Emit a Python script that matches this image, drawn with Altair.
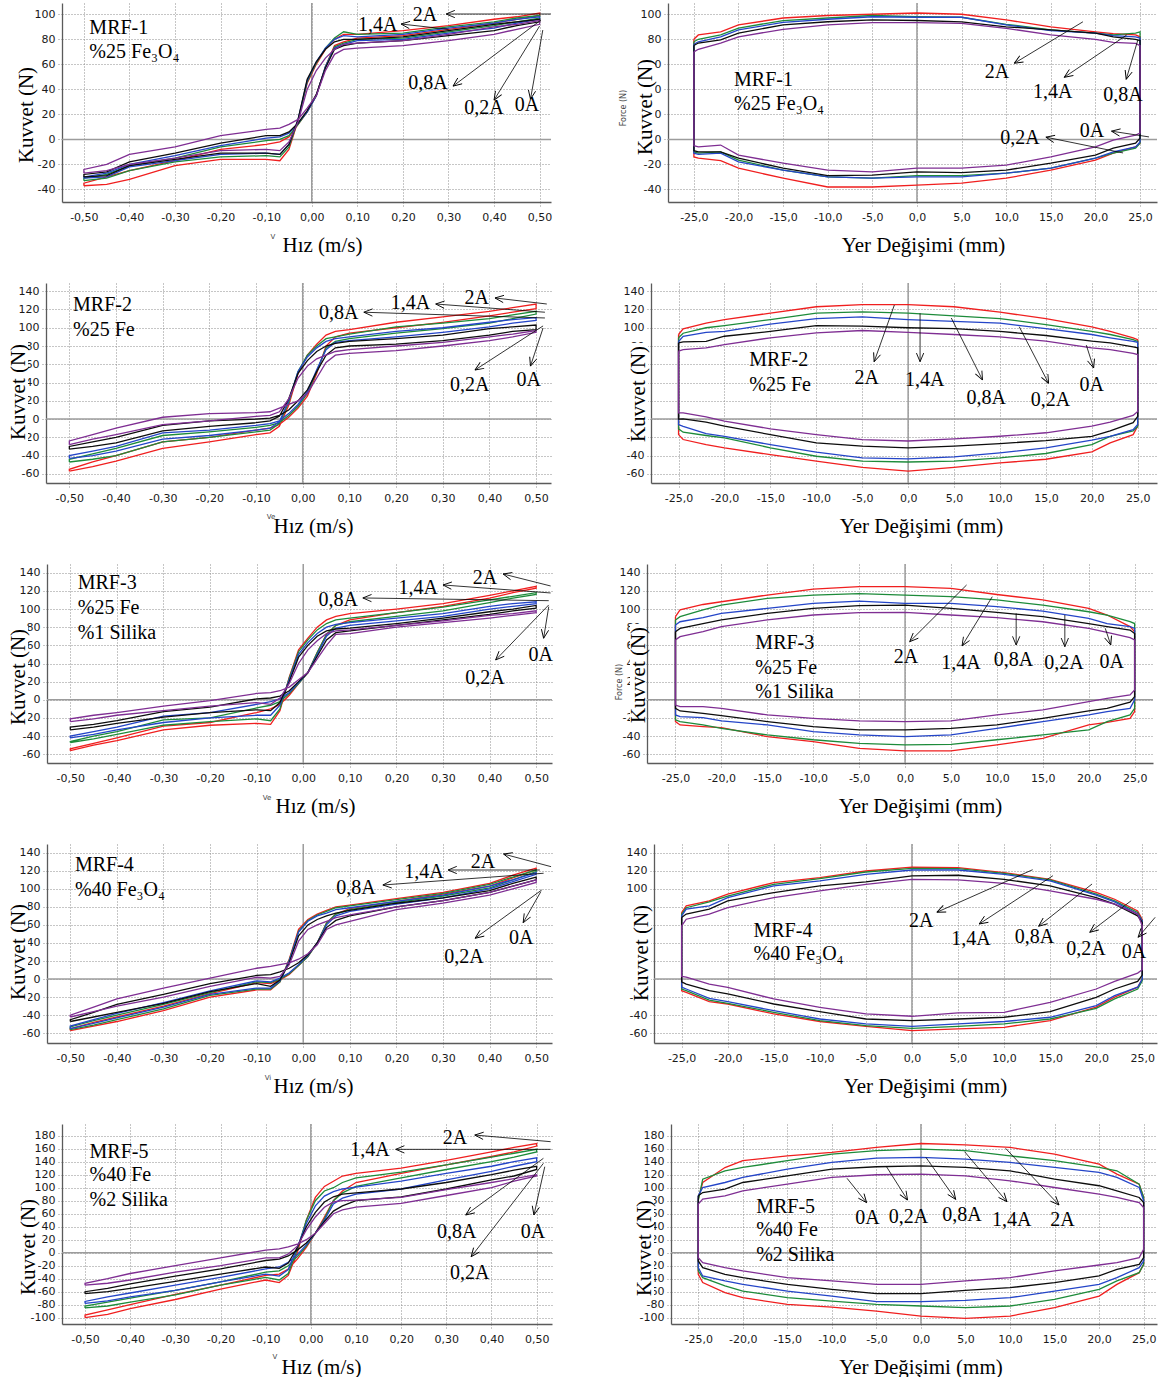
import math
import altair as alt
import pandas as pd

SERIF = "Liberation Serif, DejaVu Serif, serif"
SANS = "DejaVu Sans, Verdana, sans-serif"

# Akım değerleri ve çizgi renkleri
AKIMLAR = ["2A", "1,4A", "0,8A", "0,2A", "0A"]
RENKLER = ["#f01f1f", "#1d8b3a", "#2445c8", "#0d0d0d", "#7f2e93"]

# Ölçüm noktaları: hız (m/s) ve yer değişimi (mm)
HIZ = [-0.50, -0.45, -0.40, -0.30, -0.20, -0.10, -0.07, -0.05, -0.03, -0.01,
       0.01, 0.03, 0.05, 0.07, 0.10, 0.20, 0.30, 0.40, 0.45, 0.50]
YER = [-25, -24.5, -22, -20, -15, -10, -5, 0, 5, 10, 15, 20, 22, 24.5, 25]

HIZ_TIKLER = [-0.5, -0.4, -0.3, -0.2, -0.1, 0.0, 0.1, 0.2, 0.3, 0.4, 0.5]
YER_TIKLER = [-25, -20, -15, -10, -5, 0, 5, 10, 15, 20, 25]
KUVVET_TIKLER_A = [-40, -20, 0, 20, 40, 60, 80, 100]
KUVVET_TIKLER_B = [-60, -40, -20, 0, 20, 40, 60, 80, 100, 120, 140]
KUVVET_TIKLER_C = [-100, -80, -60, -40, -20, 0, 20, 40, 60, 80, 100, 120, 140, 160, 180]

# ---------------- MRF-1 ----------------
mrf1_hiz_a = {
    "2A":   [-37, -36, -32, -21, -16, -16, -17, -8, 15, 45, 60, 72, 80, 84, 84, 87, 91, 96, 98, 101],
    "1,4A": [-33, -31, -25, -18, -14, -13, -14, -6, 15, 46, 61, 73, 81, 86, 84, 85, 90, 94, 97, 99],
    "0,8A": [-31, -30, -22, -17, -12, -11, -12, -4, 16, 47, 62, 73, 80, 83, 82, 84, 89, 93, 96, 98],
    "0,2A": [-30, -29, -21, -16, -11, -11, -12, -4, 16, 48, 62, 72, 78, 80, 80, 82, 87, 92, 94, 96],
    "0A":   [-27, -25, -20, -15, -9, -8, -9, -2, 14, 40, 55, 65, 72, 76, 77, 79, 84, 90, 92, 95],
}
mrf1_hiz_b = {
    "2A":   [-35, -30, -25, -17, -8, -4, -2, 2, 12, 22, 35, 58, 75, 78, 81, 83, 88, 93, 96, 99],
    "1,4A": [-31, -28, -21, -15, -6, -1, 0, 3, 12, 22, 35, 58, 74, 77, 80, 81, 86, 91, 94, 97],
    "0,8A": [-30, -27, -20, -13, -5, 1, 2, 5, 13, 22, 35, 58, 73, 76, 79, 80, 85, 89, 93, 96],
    "0,2A": [-28, -26, -18, -11, -3, 3, 3, 6, 13, 23, 36, 57, 72, 75, 77, 79, 83, 87, 91, 94],
    "0A":   [-24, -20, -12, -6, 3, 8, 9, 12, 16, 25, 35, 55, 68, 72, 73, 75, 79, 84, 88, 92],
}
mrf1_yer_ust = {
    "2A":   [80, 83.5, 86, 91.5, 97, 99, 100, 101, 100, 95.5, 90, 86, 84.5, 83.5, 82],
    "1,4A": [78, 80, 83.5, 89, 95, 97, 99, 98, 97.6, 92, 87.5, 85, 83.5, 85, 86],
    "0,8A": [76, 78, 82, 87.5, 93.5, 96, 98, 97.6, 97.6, 91.5, 87, 85, 83, 82, 81],
    "0,2A": [75, 77, 79.5, 85, 91.5, 94, 95.5, 95, 94, 90, 87.5, 85, 82, 80, 79],
    "0A":   [70, 72, 77, 82, 88, 91.5, 93.3, 93.3, 92.8, 88.8, 83.5, 80, 77.5, 76.8, 75],
}
mrf1_yer_alt = {
    "2A":   [-14, -15, -17, -23, -31, -38, -38, -36.5, -35, -31, -24.5, -16.5, -11, -6, -3],
    "1,4A": [-10, -11, -10, -16.5, -24.5, -30, -31, -29, -29, -27, -23, -15, -11, -7, -3],
    "0,8A": [-11, -12, -11, -18, -24.5, -30, -31, -30, -30, -27, -23, -15, -10, -6, -2],
    "0,2A": [-9, -10, -10, -15, -23, -29, -28.5, -26, -26.6, -24.5, -19, -12.5, -7, -3, 1],
    "0A":   [-5, -6, -4.5, -12.5, -19, -24.5, -26, -23, -23, -20.5, -14, -6, -0.5, 3.5, 5],
}

# ---------------- MRF-2 ----------------
mrf2_hiz_a = {
    "2A":   [-57, -52, -46, -32, -25, -17, -15, -8, 15, 50, 70, 82, 92, 96, 98, 106, 112, 118, 122, 126],
    "1,4A": [-47, -44, -40, -25, -20, -14, -12, -5, 18, 52, 70, 80, 88, 90, 93, 101, 105, 110, 114, 118],
    "0,8A": [-43, -40, -35, -22, -18, -12, -10, -3, 20, 52, 68, 78, 85, 88, 90, 96, 100, 106, 109, 111],
    "0,2A": [-33, -30, -26, -13, -8, -4, -2, 3, 22, 50, 64, 74, 80, 83, 85, 88, 92, 99, 101, 103],
    "0A":   [-28, -22, -17, -6, -2, 3, 4, 8, 22, 45, 58, 66, 70, 74, 76, 80, 84, 90, 93, 97],
}
mrf2_hiz_b = {
    "2A":   [-55, -47, -40, -25, -20, -12, -10, -6, 2, 12, 25, 50, 80, 90, 94, 100, 106, 113, 117, 121],
    "1,4A": [-44, -38, -32, -18, -14, -9, -7, -4, 4, 14, 28, 52, 78, 85, 88, 94, 99, 105, 110, 115],
    "0,8A": [-40, -35, -30, -15, -12, -7, -5, -2, 6, 16, 30, 54, 76, 84, 86, 90, 95, 101, 105, 108],
    "0,2A": [-30, -25, -20, -7, -2, 0, 1, 4, 10, 20, 32, 52, 70, 78, 80, 82, 86, 92, 96, 98],
    "0A":   [-24, -17, -10, 2, 6, 7, 8, 12, 16, 20, 28, 45, 62, 70, 72, 75, 80, 86, 90, 95],
}
mrf2_yer_ust = {
    "2A":   [92.6, 98.8, 105, 109, 116, 123, 125.4, 125.4, 123, 117, 110, 101, 96, 89, 87],
    "1,4A": [89, 94, 100, 102.4, 109, 116, 117.4, 116, 113, 110, 103.5, 96, 92.6, 87, 85],
    "0,8A": [85, 90.7, 95, 96, 104, 110, 112, 109, 107, 105, 99, 92.6, 89, 85, 84],
    "0,2A": [83.4, 84.5, 85, 90.7, 96, 102.4, 101.7, 100, 99, 96, 91.5, 85.3, 83.4, 79, 78],
    "0A":   [74.3, 76, 78, 81.6, 89, 94.4, 97, 95, 92.6, 90, 85.3, 78, 76, 72, 70.7],
}
mrf2_yer_alt = {
    "2A":   [-17, -22.4, -28, -31.5, -39, -46, -53, -57, -53, -48, -44, -36, -26, -17, -7.8],
    "1,4A": [-10.7, -14.4, -18, -20.6, -31.5, -40.7, -46, -47, -46, -42.5, -37.7, -28, -19, -13, -8],
    "0,8A": [-6, -8, -16, -19, -28, -36.3, -42.5, -43.6, -41.4, -37, -31.5, -23, -19, -11.5, -6],
    "0,2A": [0, 0.2, -3.4, -7.8, -17, -26, -29.7, -31.5, -29.7, -26.8, -23.5, -19, -13, -4, 3],
    "0A":   [6.8, 6.8, 2.4, -2.3, -10.7, -17, -22.4, -24, -21.7, -18.8, -15, -7.8, -3.4, 4, 8.4],
}

# ---------------- MRF-3 ----------------
mrf3_hiz_a = {
    "2A":   [-56, -50, -45, -33, -28, -26, -27, -12, 25, 55, 68, 80, 88, 92, 95, 100, 106, 115, 120, 125],
    "1,4A": [-47, -43, -38, -28, -24, -21, -23, -10, 24, 53, 66, 77, 84, 88, 90, 96, 102, 110, 114, 118],
    "0,8A": [-42, -38, -33, -25, -20, -17, -17, -6, 22, 50, 63, 73, 80, 83, 85, 90, 95, 103, 106, 108],
    "0,2A": [-33, -30, -26, -19, -14, -11, -12, -3, 20, 47, 60, 70, 76, 78, 79, 84, 90, 97, 100, 104],
    "0A":   [-24, -21, -17, -12, -7, -3, -5, 2, 18, 40, 55, 65, 73, 76, 77, 82, 87, 93, 95, 98],
}
mrf3_hiz_b = {
    "2A":   [-54, -48, -42, -29, -25, -14, -10, -5, 5, 18, 30, 52, 72, 82, 88, 96, 103, 112, 118, 123],
    "1,4A": [-46, -40, -35, -22, -20, -9, -6, -2, 7, 18, 30, 52, 72, 82, 86, 92, 98, 107, 112, 116],
    "0,8A": [-40, -35, -30, -18, -14, -5, -2, 1, 8, 19, 30, 50, 70, 79, 82, 87, 92, 100, 103, 106],
    "0,2A": [-30, -27, -23, -13, -8, 1, 2, 4, 10, 20, 30, 48, 66, 74, 76, 82, 88, 94, 98, 101],
    "0A":   [-21, -17, -14, -7, -1, 7, 8, 10, 14, 22, 30, 45, 60, 72, 73, 80, 85, 90, 93, 96],
}
mrf3_yer_ust = {
    "2A":   [91.6, 99, 105, 108, 115.4, 122, 124.6, 124.6, 122.8, 116, 110, 100.7, 93.4, 80.6, 75],
    "1,4A": [88, 91.6, 99, 104.4, 111.7, 115.4, 117, 115.4, 113.6, 110, 104.4, 97, 93.4, 86, 84],
    "0,8A": [82.4, 86, 90.5, 95.2, 100.7, 106.2, 108.8, 106.2, 106.2, 102.6, 97.8, 89.7, 84, 80.6, 78.7],
    "0,2A": [75, 78.7, 84, 88, 95.2, 100.7, 103.7, 104.4, 100.7, 96.3, 91.6, 84, 80.6, 76.9, 73],
    "0A":   [66, 69.5, 75, 80.6, 88, 93.4, 96, 96.3, 93.4, 90.5, 86, 78.7, 74.3, 68.4, 66],
}
mrf3_yer_alt = {
    "2A":   [-24, -27.7, -29.5, -30.6, -40.5, -46, -53.4, -56.3, -56.3, -49.7, -42.4, -27.7, -24.8, -20.4, -13],
    "1,4A": [-22, -24, -27.7, -31.4, -38.7, -44, -48, -49.7, -49, -44, -38.7, -33, -24, -16.7, -9.4],
    "0,8A": [-16.7, -18.5, -19.6, -23.3, -27.7, -35, -38.7, -40.5, -38.7, -31.4, -24, -16.7, -13, -9.4, 0],
    "0,2A": [-9.4, -12.3, -14.9, -17.4, -24, -29.5, -33.2, -33.2, -31.4, -27.7, -20.4, -12.3, -9.4, -2.6, 3.5],
    "0A":   [-5.7, -7.5, -7.5, -9.4, -16.7, -20.4, -23.3, -24, -23.3, -16.7, -11, -2, 1.6, 5.3, 10.8],
}

# ---------------- MRF-4 ----------------
mrf4_hiz_a = {
    "2A":   [-57, -52, -47, -35, -20, -12, -12, -3, 22, 55, 66, 72, 76, 80, 82, 89, 96, 106, 115, 123],
    "1,4A": [-56, -51, -45, -33, -18, -11, -11, -3, 21, 53, 65, 71, 75, 79, 81, 88, 95, 105, 113, 121],
    "0,8A": [-55, -49, -43, -31, -17, -10, -10, -2, 20, 52, 64, 70, 73, 77, 79, 86, 93, 103, 110, 118],
    "0,2A": [-47, -42, -37, -27, -14, -5, -8, -1, 18, 48, 60, 66, 70, 73, 76, 84, 90, 98, 106, 113],
    "0A":   [-42, -36, -30, -20, -8, 2, 1, 3, 16, 42, 55, 60, 64, 68, 71, 80, 87, 96, 103, 110],
}
mrf4_hiz_b = {
    "2A":   [-55, -48, -42, -30, -16, -4, -5, -1, 5, 15, 25, 40, 62, 72, 78, 86, 94, 103, 112, 121],
    "1,4A": [-53, -46, -40, -28, -15, -3, -4, 0, 6, 15, 25, 40, 62, 72, 77, 85, 92, 101, 110, 119],
    "0,8A": [-52, -45, -38, -26, -13, -2, -3, 1, 7, 16, 26, 40, 60, 70, 75, 83, 90, 100, 108, 116],
    "0,2A": [-45, -37, -28, -17, -5, 4, 5, 8, 12, 18, 27, 40, 57, 65, 70, 80, 87, 96, 103, 110],
    "0A":   [-40, -31, -22, -10, 1, 12, 14, 16, 18, 22, 28, 38, 55, 60, 64, 77, 84, 93, 100, 107],
}
mrf4_yer_ust = {
    "2A":   [73.7, 81, 86.6, 94, 106.9, 112.4, 119.7, 124, 123.4, 118, 110.5, 96, 88.4, 75.5, 66],
    "1,4A": [72, 79, 85.5, 92, 105, 111.3, 118.6, 122.7, 122.3, 117, 109.8, 94, 86.6, 73.7, 64.5],
    "0,8A": [70, 77.4, 81, 90.3, 103.2, 108.7, 116, 120.8, 120.8, 116, 108.7, 93, 85.5, 72, 64.5],
    "0,2A": [68.2, 72, 77.4, 86.6, 95.8, 103.2, 107.6, 114.2, 115, 110.5, 103.2, 90.3, 83, 70, 62.7],
    "0A":   [59, 66.3, 72, 79.2, 90.3, 97.6, 105, 110.5, 109.8, 106, 97.6, 88.4, 83, 72, 59],
}
mrf4_yer_alt = {
    "2A":   [-12.9, -14.7, -25, -27.6, -38.6, -47, -52.3, -57, -55.2, -53.4, -46, -31, -20, -9, 0],
    "1,4A": [-11, -12.9, -23.2, -26.9, -36.8, -46, -51.5, -54.5, -52.3, -49.7, -44.2, -32.4, -22, -11, -2],
    "0,8A": [-9, -11, -21.3, -25, -35, -44.2, -49.7, -52.3, -49.7, -47, -42.3, -29.4, -18.4, -9, 0],
    "0,2A": [-3, -5.5, -12.9, -16.5, -27.6, -36, -44.2, -46, -44.2, -42.3, -36, -20.2, -11, -2.6, 4.4],
    "0A":   [3, 2.2, -5.5, -9.2, -22, -31.3, -38.6, -41.2, -37.5, -36.8, -25.7, -11, -2.6, 6.6, 10.3],
}

# ---------------- MRF-5 ----------------
mrf5_hiz_a = {
    "2A":   [-100, -95, -86, -72, -56, -42, -46, -35, 0, 50, 85, 102, 110, 118, 122, 130, 142, 155, 162, 168],
    "1,4A": [-85, -82, -76, -65, -50, -38, -42, -32, 5, 50, 80, 95, 100, 108, 115, 124, 135, 147, 153, 159],
    "0,8A": [-78, -74, -68, -58, -45, -33, -36, -26, 8, 45, 72, 87, 94, 98, 101, 110, 122, 133, 140, 146],
    "0,2A": [-63, -60, -55, -44, -33, -22, -24, -16, 8, 40, 62, 78, 86, 90, 92, 98, 108, 120, 127, 133],
    "0A":   [-50, -47, -42, -30, -20, -8, -8, -2, 10, 35, 55, 70, 78, 80, 81, 85, 97, 108, 114, 120],
}
mrf5_hiz_b = {
    "2A":   [-96, -88, -80, -64, -50, -35, -33, -25, -10, 8, 30, 55, 80, 95, 108, 122, 135, 148, 155, 164],
    "1,4A": [-82, -76, -70, -58, -45, -30, -28, -20, -6, 10, 30, 52, 80, 92, 102, 115, 128, 140, 147, 155],
    "0,8A": [-75, -68, -62, -50, -38, -25, -22, -15, -3, 12, 30, 50, 75, 84, 90, 98, 112, 125, 133, 140],
    "0,2A": [-60, -55, -48, -36, -25, -12, -10, -5, 4, 15, 30, 48, 64, 72, 80, 86, 98, 112, 118, 128],
    "0A":   [-47, -40, -32, -20, -8, 4, 6, 9, 13, 20, 30, 45, 60, 66, 70, 76, 88, 100, 110, 118],
}
mrf5_yer_ust = {
    "2A":   [82.4, 108, 131, 141.5, 149, 154.3, 162, 168, 166, 162, 151.7, 136.3, 121, 105.5, 85],
    "1,4A": [80, 113.2, 126, 131.2, 141.5, 151.7, 157, 159.4, 157, 149, 141.5, 131.2, 126, 105.5, 85],
    "0,8A": [87.5, 100.3, 108, 115.8, 128.6, 138.9, 145.6, 146.6, 144, 138.9, 131.2, 123.5, 115.8, 100.3, 80],
    "0,2A": [87.5, 92.6, 97.8, 108, 118.3, 128.6, 132.2, 133.7, 131.2, 126, 113.2, 103, 95.2, 85, 77.2],
    "0A":   [74.7, 82.4, 87.5, 95.2, 105.5, 115.8, 119.9, 121, 118.3, 110.6, 100.3, 90, 85, 77.2, 69.5],
}
mrf5_yer_alt = {
    "2A":   [-33.3, -46, -61.5, -69.2, -79.5, -83.6, -89.8, -97.5, -101, -97.5, -84.6, -66.7, -48.7, -30.7, -18],
    "1,4A": [-28, -38.4, -51.2, -59, -69.2, -74.4, -79.5, -82, -84.6, -82, -71.8, -56.4, -43.5, -30.7, -18],
    "0,8A": [-23, -35.8, -43.5, -48.7, -59, -66.7, -75.4, -75.4, -73.3, -69.2, -59, -48.7, -38.4, -23, -12.7],
    "0,2A": [-12.7, -23, -33.3, -38.4, -48.7, -56.4, -63, -63, -58, -53.8, -46, -35.8, -25.6, -18, -7.6],
    "0A":   [-7.6, -15.3, -23, -28, -38.4, -43.5, -48.7, -48.7, -43.5, -38.4, -28, -18.9, -15.3, -7.6, 5.3],
}

# Panel yazıları (veri koordinatlarında sol kenar)
mrf1_hiz_yazi = [("MRF-1", -0.488, 89), ("%25 Fe\u2083O\u2084", -0.488, 69.8)]
mrf1_yer_yazi = [("MRF-1", -20.5, 47.4), ("%25 Fe\u2083O\u2084", -20.5, 28.2)]
mrf2_hiz_yazi = [("MRF-2", -0.492, 124.9), ("%25 Fe", -0.492, 97.5)]
mrf2_yer_yazi = [("MRF-2", -17.3, 64.7), ("%25 Fe", -17.3, 37.3)]
mrf3_hiz_yazi = [("MRF-3", -0.484, 128.7), ("%25 Fe", -0.484, 101), ("%1 Silika", -0.484, 73.6)]
mrf3_yer_yazi = [("MRF-3", -16.3, 62.6), ("%25 Fe", -16.3, 35), ("%1 Silika", -16.3, 8.6)]
mrf4_hiz_yazi = [("MRF-4", -0.49, 126.3), ("%40 Fe\u2083O\u2084", -0.49, 98.7)]
mrf4_yer_yazi = [("MRF-4", -17.2, 53.3), ("%40 Fe\u2083O\u2084", -17.2, 27.8)]
mrf5_hiz_yazi = [("MRF-5", -0.49, 155.4), ("%40 Fe", -0.49, 119.5), ("%2 Silika", -0.49, 81)]
mrf5_yer_yazi = [("MRF-5", -18.5, 70.8), ("%40 Fe", -18.5, 34.9), ("%2 Silika", -18.5, -3.5)]

# Akım etiketleri ve okları: etiket, etiket x, etiket y, uç x, uç y, kuyruk x, kuyruk y
mrf1_hiz_ok = [
    ("2A", 0.2485, 99.4, 0.295, 100.2, 0.525, 100.2),
    ("1,4A", 0.145, 91.4, 0.196, 92.2, 0.30, 88),
    ("0,8A", 0.255, 45, 0.31, 42.6, 0.503, 95.4),
    ("0,2A", 0.378, 25, 0.40, 31.4, 0.50, 90.6),
    ("0A", 0.472, 27.4, 0.48, 32.2, 0.507, 87.4),
]
mrf1_yer_ok = [
    ("2A", 8.96, 53.8, 10.9, 60.8, 18.6, 94),
    ("1,4A", 15.2, 37.8, 16.5, 49.6, 23.5, 83.4),
    ("0,8A", 23.1, 35.4, 23.45, 48, 24.75, 79.4),
    ("0,2A", 11.55, 1, 14.45, 1.8, 23.1, -10.8),
    ("0A", 19.6, 6.6, 21.8, 6.6, 26.0, 2),
]
mrf2_hiz_ok = [
    ("2A", 0.373, 132.6, 0.412, 132.6, 0.523, 126),
    ("1,4A", 0.231, 127, 0.285, 126, 0.519, 117),
    ("0,8A", 0.077, 116, 0.131, 117, 0.519, 110.7),
    ("0,2A", 0.358, 37.3, 0.369, 53.7, 0.515, 102),
    ("0A", 0.484, 42.8, 0.488, 58, 0.515, 99.7),
]
mrf2_yer_ok = [
    ("2A", -4.5, 45, -3.7, 62.8, -1.5, 124.9),
    ("1,4A", 1.8, 42.8, 1.3, 62.8, 1.3, 115.8),
    ("0,8A", 8.5, 23, 8.1, 42.8, 4.7, 110.7),
    ("0,2A", 15.5, 20.9, 15.3, 39.1, 12.1, 101.1),
    ("0A", 20, 37.3, 20.2, 55.9, 19.4, 81),
]
mrf3_hiz_ok = [
    ("2A", 0.39, 134.2, 0.429, 138.6, 0.531, 125.4),
    ("1,4A", 0.247, 123.2, 0.30, 126.5, 0.531, 117.7),
    ("0,8A", 0.075, 110, 0.128, 112.2, 0.527, 109.2),
    ("0,2A", 0.39, 24, 0.413, 43.9, 0.527, 104.5),
    ("0A", 0.51, 49.4, 0.516, 67.8, 0.527, 102.6),
]
mrf3_yer_ok = [
    ("2A", 0.1, 47.2, 0.5, 64, 6.7, 126.5),
    ("1,4A", 6.1, 40.6, 6.2, 59.3, 9.5, 113.6),
    ("0,8A", 11.8, 43.9, 12.1, 60.4, 12.1, 95.3),
    ("0,2A", 17.3, 40.6, 17.4, 58.5, 17.4, 93.4),
    ("0A", 22.5, 41.7, 22.4, 60.4, 21.8, 78.8),
]
mrf4_hiz_ok = [
    ("2A", 0.386, 129.7, 0.43, 138.5, 0.532, 124.5),
    ("1,4A", 0.259, 118.6, 0.311, 120.8, 0.508, 120.8),
    ("0,8A", 0.113, 100.9, 0.171, 104.2, 0.516, 117.2),
    ("0,2A", 0.345, 24.5, 0.369, 45.2, 0.512, 98.7),
    ("0A", 0.468, 45.5, 0.472, 62.4, 0.51, 96.8),
]
mrf4_yer_ok = [
    ("2A", 1.0, 64.3, 2.7, 74, 13.1, 121.1),
    ("1,4A", 6.4, 44.4, 7.3, 61, 15.3, 114.5),
    ("0,8A", 13.3, 46.6, 13.75, 58.5, 19.55, 105.3),
    ("0,2A", 18.9, 33.3, 19.3, 51.8, 23.8, 86.8),
    ("0A", 24.1, 30, 24.55, 46.3, 26.4, 68.4),
]
mrf5_hiz_ok = [
    ("2A", 0.319, 176.5, 0.363, 181, 0.531, 170.8),
    ("1,4A", 0.131, 158, 0.188, 159, 0.531, 159),
    ("0,8A", 0.323, 32.3, 0.343, 58, 0.515, 145.2),
    ("0,2A", 0.352, -31.2, 0.355, -6.2, 0.515, 137.5),
    ("0A", 0.492, 32.3, 0.494, 58, 0.518, 132.3),
]
mrf5_yer_ok = [
    ("0A", -6.0, 53.4, -6.1, 77, -8.3, 114.5),
    ("0,2A", -1.4, 55.4, -1.5, 81, -3.9, 133),
    ("0,8A", 4.6, 58, 3.9, 82, 0.55, 146.8),
    ("1,4A", 10.2, 50.3, 9.65, 78.5, 4.9, 155.4),
    ("2A", 15.9, 50.3, 15.5, 73.4, 9.5, 160.6),
]

EKSI = "\u2212"
HIZ_ETIKET = f"replace(replace(format(datum.value, '.2f'), '.', ','), '{EKSI}', '-')"
YER_ETIKET = f"replace(replace(format(datum.value, '.1f'), '.', ','), '{EKSI}', '-')"
KUVVET_ETIKET = f"replace(format(datum.value, 'd'), '{EKSI}', '-')"
OK_UCU = "M0,0L1,-0.42M0,0L1,0.42"
BOS = pd.DataFrame({"t": [""]})


def dongu_tablosu(grid, gidis, donus):
    """Her akım için kapalı histerezis döngüsü: gidiş kolu, ardından ters sırada dönüş kolu."""
    satirlar = []
    for akim in AKIMLAR:
        noktalar = list(zip(grid, gidis[akim])) + list(zip(grid[::-1], donus[akim][::-1]))
        noktalar.append(noktalar[0])
        for sira, (x, y) in enumerate(noktalar):
            satirlar.append({"akim": akim, "x": x, "y": y, "sira": sira})
    return pd.DataFrame(satirlar)


def capa(ax_, ay_):
    """Yerleşim sınırlarını belirleyen görünmez nokta."""
    return alt.Chart(BOS).mark_rule(color="white", strokeWidth=0.1).encode(
        x=alt.value(ax_), x2=alt.value(ax_), y=alt.value(ay_), y2=alt.value(ay_))


def panel(tablo, tip, w, h, xdom, ydom, ytikler, yazilar, oklar,
          kuvvet_xy, xbaslik_x, capalar, artik=None, force_xy=None):
    xs = alt.Scale(domain=xdom, nice=False, zero=False)
    ys = alt.Scale(domain=ydom, nice=False, zero=False)
    if tip == "hiz":
        xax = alt.Axis(values=HIZ_TIKLER, labelExpr=HIZ_ETIKET, title="Hız (m/s)",
                       titleX=xbaslik_x, titleY=43, titleAlign="center", titleBaseline="middle",
                       labelPadding=3)
    else:
        xax = alt.Axis(values=YER_TIKLER, labelExpr=YER_ETIKET, title="Yer Değişimi (mm)",
                       titleX=xbaslik_x, titleY=43, titleAlign="center", titleBaseline="middle",
                       labelPadding=3)
    yax = alt.Axis(values=ytikler, labelExpr=KUVVET_ETIKET, title=None, labelPadding=1)

    def X(f):
        return alt.X(f"{f}:Q", scale=xs, axis=xax)

    def Y(f):
        return alt.Y(f"{f}:Q", scale=ys, axis=yax)

    sifir = pd.DataFrame({"s": [0]})
    dikey = alt.Chart(sifir).mark_rule(color="#9c9c9c", strokeWidth=1.5).encode(x=X("s"))
    yatay = alt.Chart(sifir).mark_rule(color="#9c9c9c", strokeWidth=1.5).encode(y=Y("s"))

    cizgi = alt.Chart(tablo).mark_line(strokeWidth=1.3).encode(
        x=X("x"), y=Y("y"),
        color=alt.Color("akim:N", scale=alt.Scale(domain=AKIMLAR, range=RENKLER), legend=None),
        order="sira:Q",
    )

    sx = w / (xdom[1] - xdom[0])
    sy = h / (ydom[1] - ydom[0])
    ok_df = pd.DataFrame(oklar, columns=["t", "lx", "ly", "hx", "hy", "tx", "ty"])
    ok_df["aci"] = [
        (math.degrees(math.atan2(-(r.hy - r.ty) * sy, (r.hx - r.tx) * sx)) - 180) % 360
        for r in ok_df.itertuples()
    ]
    ok_cizgi = alt.Chart(ok_df).mark_rule(color="black", strokeWidth=0.8).encode(
        x=X("tx"), y=Y("ty"), x2=alt.X2("hx:Q"), y2=alt.Y2("hy:Q"))
    ok_uc = alt.Chart(ok_df).mark_point(shape=OK_UCU, filled=False, size=300, strokeWidth=0.9,
                                        color="black", opacity=1).encode(
        x=X("hx"), y=Y("hy"), angle=alt.Angle("aci:Q", scale=None))
    etiket = alt.Chart(ok_df).mark_text(font=SERIF, fontSize=20, align="center",
                                        baseline="middle", color="black").encode(
        x=X("lx"), y=Y("ly"), text="t:N")

    yazi_df = pd.DataFrame(yazilar, columns=["t", "x", "y"])
    yazi = alt.Chart(yazi_df).mark_text(font=SERIF, fontSize=20, align="left",
                                        baseline="middle", color="black").encode(
        x=X("x"), y=Y("y"), text="t:N")

    kx, ky = kuvvet_xy
    baslik_df = pd.DataFrame({"t": ["Kuvvet (N)"]})
    kutu = alt.Chart(baslik_df).mark_rect(color="white").encode(
        x=alt.value(kx - 9), x2=alt.value(min(kx + 9, -1)),
        y=alt.value(ky - 51), y2=alt.value(ky + 51))
    baslik = alt.Chart(baslik_df).mark_text(angle=270, font=SERIF, fontSize=21, align="center",
                                            baseline="middle", color="black").encode(
        x=alt.value(kx), y=alt.value(ky), text="t:N")

    katmanlar = [dikey, yatay, cizgi, ok_cizgi, ok_uc, etiket, yazi, kutu, baslik]

    if force_xy is not None:
        f_df = pd.DataFrame({"t": ["Force (N)"]})
        katmanlar.append(alt.Chart(f_df).mark_text(angle=270, font=SANS, fontSize=8, color="#444",
                                                   align="center", baseline="middle").encode(
            x=alt.value(force_xy[0]), y=alt.value(force_xy[1]), text="t:N"))
    if artik is not None:
        a_df = pd.DataFrame({"t": [artik[0]]})
        katmanlar.append(alt.Chart(a_df).mark_text(font=SANS, fontSize=7, color="#444",
                                                   align="center", baseline="middle").encode(
            x=alt.value(artik[1]), y=alt.value(h + artik[2]), text="t:N"))

    for ax_, ay_ in capalar:
        katmanlar.append(capa(ax_, ay_))

    return alt.layer(*katmanlar).properties(width=w, height=h)


def bosluk():
    """Satırın başında 1 piksellik boş hücre."""
    return capa(0, 0).properties(width=1, height=1)


# Satır yerleşimi: sol çizim alanı solu, genişlik; sağ çizim alanı solu, genişlik; yükseklik; satır aralığı
YERLESIM = [
    dict(sol=61, sol_w=489, sag=667, sag_w=489, h=199, adim=280),
    dict(sol=45, sol_w=505, sag=650, sag_w=506, h=200, adim=281),
    dict(sol=46, sol_w=505, sag=646, sag_w=506, h=199, adim=280),
    dict(sol=46, sol_w=505, sag=653, sag_w=503, h=199, adim=280),
    dict(sol=61, sol_w=490, sag=670, sag_w=486, h=200, adim=None),
]


def capalar_sol(i):
    g = YERLESIM[i]
    c = [(-(g["sol"] - 2), 100), (g["sol_w"] + 10, 100)]
    if i > 0:
        c.append((g["sol_w"] / 2, -2))
    if g["adim"] is not None:
        c.append((g["sol_w"] / 2, g["adim"] - 4))
    return c


def capalar_sag(i):
    g = YERLESIM[i]
    return [(-(g["sag"] - g["sol"] - g["sol_w"] - 12), 100)]


PANELLER = [
    (mrf1_hiz_a, mrf1_hiz_b, mrf1_yer_ust, mrf1_yer_alt, [-50, 109], KUVVET_TIKLER_A,
     mrf1_hiz_yazi, mrf1_hiz_ok, mrf1_yer_yazi, mrf1_yer_ok,
     [-0.548, 0.525], [-27.9, 26.9], (-35, 112), (-22, 104), 260, 255, ("V", 211, 35), (-44, 105)),
    (mrf2_hiz_a, mrf2_hiz_b, mrf2_yer_ust, mrf2_yer_alt, [-70, 149], KUVVET_TIKLER_B,
     mrf2_hiz_yazi, mrf2_hiz_ok, mrf2_yer_yazi, mrf2_yer_ok,
     [-0.55, 0.532], [-28.0, 27.1], (-27, 109), (-12, 111), 267, 270, ("Ve", 225, 34), None),
    (mrf3_hiz_a, mrf3_hiz_b, mrf3_yer_ust, mrf3_yer_alt, [-69.6, 149.6], KUVVET_TIKLER_B,
     mrf3_hiz_yazi, mrf3_hiz_ok, mrf3_yer_yazi, mrf3_yer_ok,
     [-0.55, 0.534], [-28.1, 27.0], (-28, 113), (-8, 111), 268, 273, ("Ve", 220, 35), (-27, 118)),
    (mrf4_hiz_a, mrf4_hiz_b, mrf4_yer_ust, mrf4_yer_alt, [-70.8, 149.6], KUVVET_TIKLER_B,
     mrf4_hiz_yazi, mrf4_hiz_ok, mrf4_yer_yazi, mrf4_yer_ok,
     [-0.55, 0.534], [-28.0, 26.6], (-28, 108), (-12, 109), 266, 271, ("Vi", 221, 35), None),
    (mrf5_hiz_a, mrf5_hiz_b, mrf5_yer_ust, mrf5_yer_alt, [-109.7, 198], KUVVET_TIKLER_C,
     mrf5_hiz_yazi, mrf5_hiz_ok, mrf5_yer_yazi, mrf5_yer_ok,
     [-0.551, 0.534], [-28.06, 26.5], (-33, 123), (-26, 124), 259, 249.5, ("V", 213, 33), None),
]

satirlar = []
for i, p in enumerate(PANELLER):
    (ha, hb, yu, ya, ydom, ytik, hyazi, hok, yyazi, yok,
     xdom_h, xdom_y, k_sol, k_sag, xb_sol, xb_sag, artik, force) = p
    g = YERLESIM[i]
    sol = panel(dongu_tablosu(HIZ, ha, hb), "hiz", g["sol_w"], g["h"], xdom_h, ydom, ytik,
                hyazi, hok, k_sol, xb_sol, capalar_sol(i), artik=artik)
    sag = panel(dongu_tablosu(YER, yu, ya), "yer", g["sag_w"], g["h"], xdom_y, ydom, ytik,
                yyazi, yok, k_sag, xb_sag, capalar_sag(i), force_xy=force)
    satirlar.append(alt.hconcat(bosluk(), sol, sag, spacing=0))

chart = alt.vconcat(*satirlar, spacing=0).properties(
    padding={"left": 0, "top": 2, "right": 0, "bottom": 0},
    background="white",
).configure_view(strokeWidth=0).configure_axis(
    gridColor="#8c8c8c", gridDash=[1, 2], gridWidth=1, gridOpacity=1,
    domainColor="#5a5a5a", domainWidth=1.3,
    tickColor="#8c8c8c", tickDash=[1, 2], tickSize=6, tickWidth=1,
    labelFont=SANS, labelFontSize=11, labelColor="#1a1a1a",
    labelOverlap=False, labelFlush=False,
    titleFont=SERIF, titleFontSize=21, titleFontWeight="normal", titleColor="black",
)

chart.save("out.html", embed_options={"renderer": "svg", "actions": False})
